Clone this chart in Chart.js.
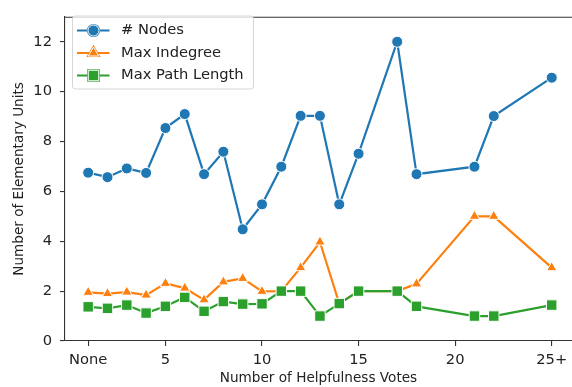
<!DOCTYPE html>
<html>
<head>
<meta charset="utf-8">
<script src="https://cdn.jsdelivr.net/npm/chart.js@4"></script>
<style>
  html, body { margin: 0; padding: 0; background: #fff; }
  #wrap { width: 572px; height: 387px; }
</style>
</head>
<body>
<div id="wrap"><canvas id="votesChart" width="572" height="387"></canvas></div>
<script>
// x positions (1 = "None", 25 = "25+")
var votes = [1, 2, 3, 4, 5, 6, 7, 8, 9, 10, 11, 12, 13, 14, 15, 17, 18, 21, 22, 25];
var nodes = [6.75, 6.57, 6.92, 6.74, 8.54, 9.1, 6.69, 7.59, 4.48, 5.48, 6.99, 9.03, 9.03, 5.48, 7.51, 12.0, 6.69, 6.99, 9.02, 10.56];
var maxIndegree = [1.95, 1.9, 1.96, 1.84, 2.31, 2.12, 1.65, 2.37, 2.51, 1.99, 2.0, 2.94, 3.97, 1.5, 2.0, 2.0, 2.29, 5.0, 5.0, 2.94];
var maxPathLength = [1.37, 1.31, 1.44, 1.12, 1.39, 1.75, 1.19, 1.58, 1.48, 1.49, 2.0, 2.0, 1.0, 1.5, 2.0, 2.0, 1.39, 1.0, 1.0, 1.44];
var xTicks = [1, 5, 10, 15, 20, 25];
var xTickLabels = {1: "None", 25: "25+"};
var yTicks = [0, 2, 4, 6, 8, 10, 12];

var FONT = "'DejaVu Sans', sans-serif";

function pts(ys) {
  return votes.map(function (v, i) { return {x: v, y: ys[i]}; });
}

// matplotlib-like legend box inside the axes
var mplLegend = {
  id: 'mplLegend',
  afterDraw: function (chart) {
    var ctx = chart.ctx;
    var a = chart.chartArea;
    ctx.save();
    // top spine
    ctx.strokeStyle = '#333';
    ctx.lineWidth = 1.1;
    ctx.beginPath();
    ctx.moveTo(a.left, a.top + 0.5);
    ctx.lineTo(a.right, a.top + 0.5);
    ctx.stroke();

    var bx = 72.5, by = 16, bw = 181, bh = 73, r = 3;
    ctx.beginPath();
    ctx.moveTo(bx + r, by);
    ctx.arcTo(bx + bw, by, bx + bw, by + bh, r);
    ctx.arcTo(bx + bw, by + bh, bx, by + bh, r);
    ctx.arcTo(bx, by + bh, bx, by, r);
    ctx.arcTo(bx, by, bx + bw, by, r);
    ctx.closePath();
    ctx.fillStyle = 'rgba(255,255,255,0.8)';
    ctx.fill();
    ctx.strokeStyle = '#d6d6d6';
    ctx.lineWidth = 1;
    ctx.stroke();

    var rows = [30.5, 53, 75.5];
    chart.data.datasets.forEach(function (ds, i) {
      var y = rows[i];
      ctx.strokeStyle = ds.borderColor;
      ctx.lineWidth = 2.2;
      ctx.setLineDash([]);
      ctx.beginPath();
      ctx.moveTo(77, y);
      ctx.lineTo(109.5, y);
      ctx.stroke();
      Chart.helpers.drawPoint(ctx, {
        pointStyle: ds.pointStyle,
        radius: ds.pointRadius,
        rotation: 0,
        borderWidth: 1
      }, 93.5, y);
      ctx.fillStyle = ds.backgroundColor;
      ctx.strokeStyle = '#fff';
      ctx.lineWidth = 1;
      ctx.fill();
      ctx.stroke();
      ctx.fillStyle = '#222';
      ctx.font = '14.7px ' + FONT;
      ctx.textBaseline = 'middle';
      ctx.textAlign = 'left';
      ctx.fillText(ds.label, 121, y);
    });
    ctx.restore();
  }
};

var ctx = document.getElementById('votesChart').getContext('2d');
var votesChart = new Chart(ctx, {
  type: 'line',
  data: {
    datasets: [{
      label: '# Nodes',
      data: pts(nodes),
      borderColor: '#1f77b4',
      backgroundColor: '#1f77b4',
      pointStyle: 'circle',
      pointRadius: 5.5,
      order: 2
    }, {
      label: 'Max Indegree',
      data: pts(maxIndegree),
      borderColor: '#ff7f0e',
      backgroundColor: '#ff7f0e',
      pointStyle: 'triangle',
      pointRadius: 6,
      order: 1
    }, {
      label: 'Max Path Length',
      data: pts(maxPathLength),
      borderColor: '#2ca02c',
      backgroundColor: '#2ca02c',
      pointStyle: 'rect',
      pointRadius: 7.4,
      order: 0
    }]
  },
  options: {
    responsive: false,
    animation: false,
    datasets: {
      line: {
        borderWidth: 2.2,
        pointBorderColor: '#ffffff',
        pointBorderWidth: 1,
        tension: 0,
        fill: false
      }
    },
    layout: { autoPadding: false, padding: { top: 8, left: 0, right: 0, bottom: 0 } },
    plugins: {
      legend: { display: false },
      tooltip: { enabled: false }
    },
    scales: {
      x: {
        type: 'linear',
        min: -0.2,
        max: 26.05,
        afterBuildTicks: function (s) { s.ticks = xTicks.map(function (v) { return {value: v}; }); },
        afterFit: function (s) { s.height = 46; s.paddingLeft = 0; s.paddingRight = 0; },
        grid: { drawOnChartArea: false, drawTicks: true, tickLength: 5, color: '#333', lineWidth: 1.1 },
        border: { display: true, color: '#333', width: 1.1 },
        ticks: {
          autoSkip: false,
          maxRotation: 0,
          padding: 5,
          color: '#222',
          font: { family: FONT, size: 14.7 },
          callback: function (v) { return xTickLabels[v] !== undefined ? xTickLabels[v] : String(v); }
        },
        title: {
          display: true,
          text: 'Number of Helpfulness Votes',
          color: '#222',
          font: { family: FONT, size: 13.6 },
          padding: { top: 0, bottom: 0 }
        }
      },
      y: {
        min: 0,
        max: 13,
        afterBuildTicks: function (s) { s.ticks = yTicks.map(function (v) { return {value: v}; }); },
        afterFit: function (s) { s.width = 65; },
        grid: { drawOnChartArea: false, drawTicks: true, tickLength: 5, color: '#333', lineWidth: 1.1 },
        border: { display: true, color: '#333', width: 1.1 },
        ticks: {
          padding: 8,
          color: '#222',
          font: { family: FONT, size: 14.7 }
        },
        title: {
          display: true,
          text: 'Number of Elementary Units',
          color: '#222',
          font: { family: FONT, size: 13.6 },
          padding: { top: 11, bottom: 0 }
        }
      }
    }
  },
  plugins: [mplLegend]
});
</script>
</body>
</html>
